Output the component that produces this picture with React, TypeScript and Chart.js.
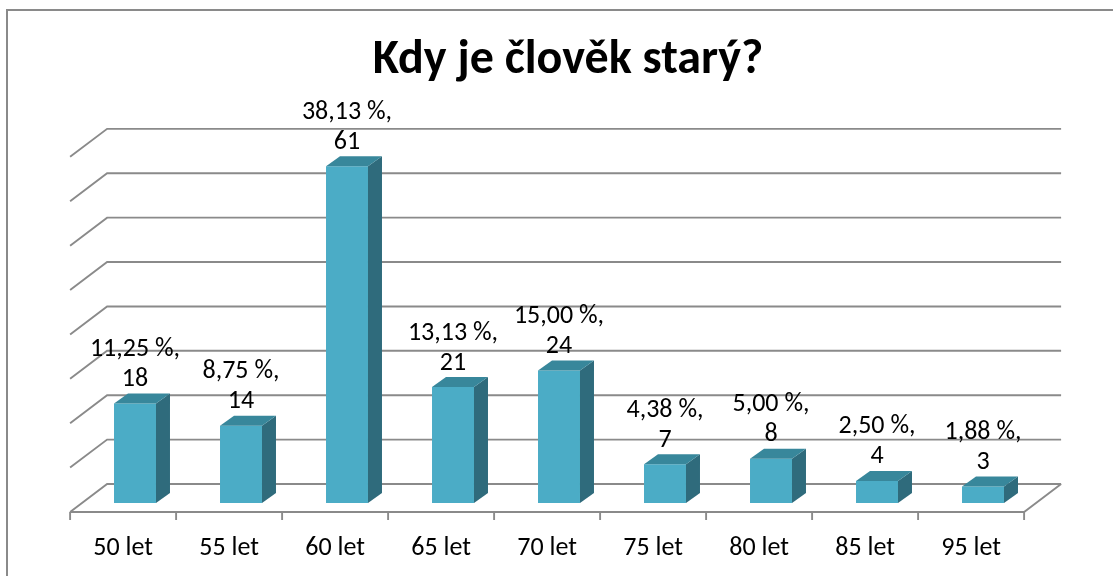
import React, { useEffect, useRef } from 'react';
import { Chart, registerables } from 'chart.js';

Chart.register(...registerables);

const categories = ['50 let', '55 let', '60 let', '65 let', '70 let', '75 let', '80 let', '85 let', '95 let'];
const counts = [18, 14, 61, 21, 24, 7, 8, 4, 3];
const wallTicks = [0, 10, 20, 30, 40, 50, 60, 70, 80];
const titleText = 'Kdy je člověk starý?';

const FONT = 'Carlito, Lato, sans-serif';
const FRONT_COLOR = '#4BACC6';
const TOP_COLOR = '#38879B';
const SIDE_COLOR = '#2F6B7C';
const GRID_COLOR = '#8a8a8a';
const BAR_DX = 14;
const BAR_DY = 10;
const FLOOR_FRONT = 9;
const FLOOR_BACK = 19;
const SLOPE = 37 / 28;
const WALL_SCALE = 0.804;

const total = counts.reduce((a, b) => a + b, 0);

const threeD = {
  id: 'threeD',
  beforeDraw(chart: any) {
    const { ctx, width, height } = chart;
    ctx.save();
    ctx.strokeStyle = GRID_COLOR;
    ctx.lineWidth = 2;
    ctx.beginPath();
    ctx.moveTo(7, height);
    ctx.lineTo(7, 10);
    ctx.lineTo(width, 10);
    ctx.stroke();
    ctx.restore();
  },
  beforeDatasetsDraw(chart: any) {
    const { ctx, chartArea, scales } = chart;
    const x = scales.x;
    const y = scales.y;
    const base = y.getPixelForValue(0);
    const backY = base - FLOOR_BACK;
    const frontY = base + FLOOR_FRONT;
    const backL = chartArea.left + FLOOR_BACK * SLOPE;
    const backR = chartArea.right + FLOOR_BACK * SLOPE;
    const frontL = chartArea.left - FLOOR_FRONT * SLOPE;
    const frontR = chartArea.right - FLOOR_FRONT * SLOPE;
    const depthY = frontY - backY;
    ctx.save();
    ctx.strokeStyle = GRID_COLOR;
    ctx.lineWidth = 1.9;
    ctx.lineJoin = 'miter';
    wallTicks.forEach((v) => {
      const wy = backY - (base - y.getPixelForValue(v)) * WALL_SCALE;
      ctx.beginPath();
      ctx.moveTo(frontL, wy + depthY);
      ctx.lineTo(backL, wy);
      ctx.lineTo(backR, wy);
      ctx.stroke();
    });
    ctx.beginPath();
    ctx.moveTo(frontL, frontY);
    ctx.lineTo(frontR, frontY);
    ctx.lineTo(backR, backY);
    ctx.stroke();
    const n = categories.length;
    const half = (x.getPixelForValue(1) - x.getPixelForValue(0)) / 2;
    for (let i = 0; i <= n; i++) {
      const cx = i < n ? x.getPixelForValue(i) - half : x.getPixelForValue(n - 1) + half;
      const tx = cx - FLOOR_FRONT * SLOPE;
      ctx.beginPath();
      ctx.moveTo(tx, frontY);
      ctx.lineTo(tx, frontY + 8);
      ctx.stroke();
    }
    ctx.restore();
  },
  afterDatasetsDraw(chart: any) {
    const { ctx } = chart;
    const meta = chart.getDatasetMeta(0);
    ctx.save();
    meta.data.forEach((bar: any, i: number) => {
      const { x: cx, y: top, width, base } = bar.getProps(['x', 'y', 'width', 'base'], true);
      const left = cx - width / 2;
      const right = cx + width / 2;
      ctx.fillStyle = SIDE_COLOR;
      ctx.beginPath();
      ctx.moveTo(right, top);
      ctx.lineTo(right + BAR_DX, top - BAR_DY);
      ctx.lineTo(right + BAR_DX, base - BAR_DY);
      ctx.lineTo(right, base);
      ctx.closePath();
      ctx.fill();
      ctx.fillStyle = TOP_COLOR;
      ctx.beginPath();
      ctx.moveTo(left, top);
      ctx.lineTo(left + BAR_DX, top - BAR_DY);
      ctx.lineTo(right + BAR_DX, top - BAR_DY);
      ctx.lineTo(right, top);
      ctx.closePath();
      ctx.fill();

      const v = counts[i];
      const pct = ((v / total) * 100).toFixed(2).replace('.', ',') + ' %,';
      ctx.fillStyle = '#000';
      ctx.font = `26px ${FONT}`;
      ctx.textAlign = 'center';
      ctx.textBaseline = 'middle';
      ctx.fillText(pct, cx, top - 54);
      ctx.fillText(String(v), cx, top - 24);
    });
    ctx.restore();
  },
};

export default function App() {
  const ref = useRef<HTMLCanvasElement | null>(null);
  useEffect(() => {
    document.body.style.margin = '0';
    const canvas = ref.current;
    if (!canvas) return;
    const chart = new Chart(canvas, {
      type: 'bar',
      data: {
        labels: categories,
        datasets: [
          {
            data: counts,
            backgroundColor: FRONT_COLOR,
            borderWidth: 0,
            barPercentage: 0.396,
            categoryPercentage: 1,
          },
        ],
      },
      options: {
        responsive: false,
        animation: false,
        events: [],
        layout: { padding: { left: 23, right: 0, top: 0, bottom: 0 } },
        plugins: {
          legend: { display: false },
          tooltip: { enabled: false },
          title: {
            display: true,
            text: titleText,
            color: '#000',
            font: { family: FONT, size: 48, weight: 'bold' },
            padding: { top: 32.2, bottom: 26.7 },
          },
        },
        scales: {
          x: {
            grid: { display: false, drawTicks: false },
            border: { display: false },
            ticks: {
              color: '#000',
              font: { family: FONT, size: 26 },
              padding: 30,
              labelOffset: -FLOOR_FRONT * SLOPE,
              maxRotation: 0,
              autoSkip: false,
            },
            afterFit: (s: any) => {
              s.height = 73;
            },
          },
          y: {
            min: 0,
            max: 70,
            grid: { display: false, drawTicks: false },
            border: { display: false },
            ticks: { display: false },
            afterFit: (s: any) => {
              s.width = 59;
            },
          },
          yR: {
            display: true,
            position: 'right',
            min: 0,
            max: 1,
            grid: { display: false, drawTicks: false },
            border: { display: false },
            ticks: { display: false },
            afterFit: (s: any) => {
              s.width = 77;
            },
          },
        },
      },
      plugins: [threeD],
    } as any);
    return () => chart.destroy();
  }, []);
  return (
    <div style={{ width: 1113, height: 576, position: 'relative', overflow: 'hidden' }}>
      <canvas ref={ref} width={1113} height={576} style={{ display: 'block' }} />
    </div>
  );
}
